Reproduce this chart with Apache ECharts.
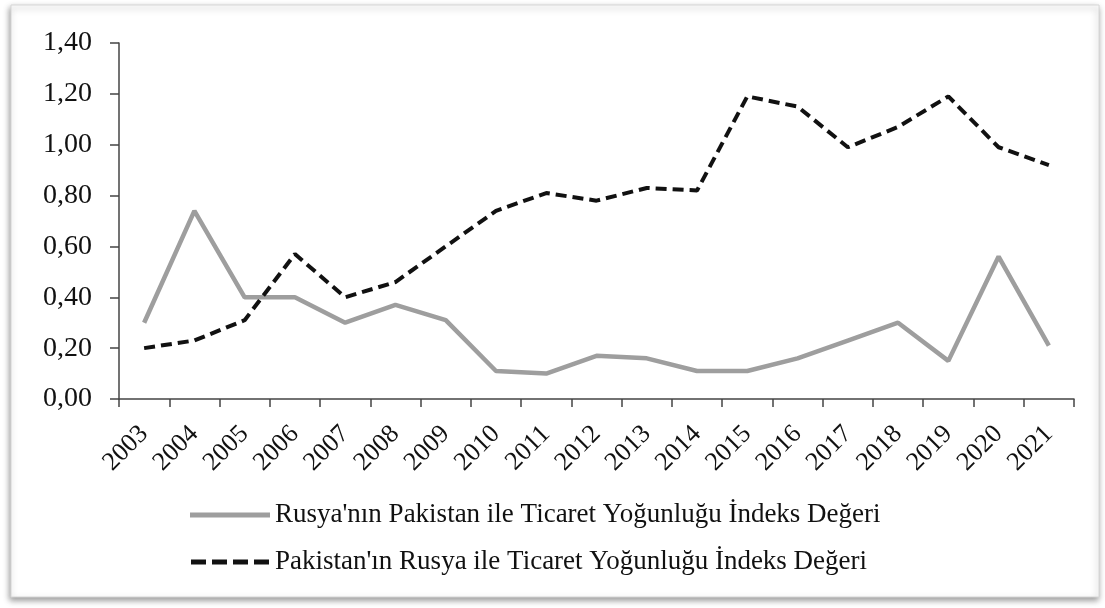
<!DOCTYPE html>
<html>
<head>
<meta charset="utf-8">
<script src="https://cdn.jsdelivr.net/npm/echarts@6/dist/echarts.min.js"></script>
<style>
  html, body { margin: 0; padding: 0; background: #fff; }
  #chart { width: 1105px; height: 608px; }
</style>
</head>
<body>
<div id="chart"></div>
<script>
// data
var years = ['2003', '2004', '2005', '2006', '2007', '2008', '2009', '2010', '2011', '2012',
  '2013', '2014', '2015', '2016', '2017', '2018', '2019', '2020', '2021'];
var rusyaPakistan = [0.30, 0.74, 0.40, 0.40, 0.30, 0.37, 0.31, 0.11, 0.10, 0.17,
  0.16, 0.11, 0.11, 0.16, 0.23, 0.30, 0.15, 0.56, 0.21];
var pakistanRusya = [0.20, 0.23, 0.31, 0.57, 0.40, 0.46, 0.60, 0.74, 0.81, 0.78,
  0.83, 0.82, 1.19, 1.15, 0.99, 1.07, 1.19, 0.99, 0.92];
var seriesNames = ["Rusya'nın Pakistan ile Ticaret Yoğunluğu İndeks Değeri",
  "Pakistan'ın Rusya ile Ticaret Yoğunluğu İndeks Değeri"];

var serif = '"Liberation Serif", "DejaVu Serif", serif';
var chart = echarts.init(document.getElementById('chart'));

var option = {
  animation: false,
  backgroundColor: '#fff',
  textStyle: { fontFamily: serif },
  graphic: [
    {
      type: 'rect',
      z: -10,
      shape: { x: 11, y: 5, width: 1088, height: 592 },
      style: {
        fill: '#fff',
        stroke: '#d6d6d6',
        lineWidth: 1,
        shadowColor: 'rgba(0,0,0,0.4)',
        shadowBlur: 6,
        shadowOffsetX: -1,
        shadowOffsetY: 3
      }
    }
  ],
  grid: {
    left: 119,
    right: 31,
    top: 43,
    bottom: 209
  },
  legend: {
    orient: 'vertical',
    left: 185,
    top: 496,
    itemWidth: 80,
    itemHeight: 5,
    itemGap: 19,
    textStyle: { fontFamily: serif, fontSize: 27, lineHeight: 28, color: '#111' },
    data: [
      { name: seriesNames[0], icon: 'path://M0,0H80V5H0Z' },
      { name: seriesNames[1], icon: 'path://M0,0h15v5h-15zM21,0h15v5h-15zM42,0h15v5h-15zM63,0h15v5h-15z' }
    ]
  },
  xAxis: {
    type: 'category',
    data: years,
    boundaryGap: true,
    axisLine: { lineStyle: { color: '#444', width: 1.5 } },
    axisTick: { show: true, length: 8, lineStyle: { color: '#444', width: 1.5 } },
    axisLabel: {
      rotate: 45,
      interval: 0,
      margin: 31,
      fontFamily: serif,
      fontSize: 26,
      color: '#111'
    }
  },
  yAxis: {
    type: 'value',
    min: 0,
    max: 1.4,
    interval: 0.2,
    splitLine: { show: false },
    axisLine: { show: true, lineStyle: { color: '#444', width: 1.5 } },
    axisTick: { show: true, length: 9, lineStyle: { color: '#444', width: 1.5 } },
    axisLabel: {
      margin: 27,
      fontFamily: serif,
      fontSize: 28,
      color: '#111',
      formatter: function (v) { return v.toFixed(2).replace('.', ','); }
    }
  },
  series: [
    {
      name: seriesNames[0],
      type: 'line',
      data: rusyaPakistan,
      symbol: 'none',
      lineStyle: { color: '#9e9e9e', width: 4.5 },
      itemStyle: { color: '#9e9e9e' }
    },
    {
      name: seriesNames[1],
      type: 'line',
      data: pakistanRusya,
      symbol: 'none',
      lineStyle: { color: '#111', width: 4, type: [11, 6] },
      itemStyle: { color: '#111' }
    }
  ]
};

chart.setOption(option);
</script>
</body>
</html>
